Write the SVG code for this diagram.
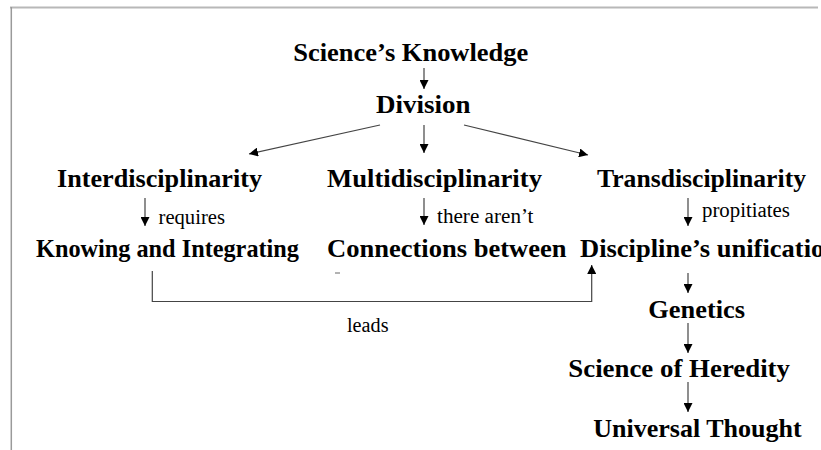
<svg xmlns="http://www.w3.org/2000/svg" width="821" height="450" viewBox="0 0 821 450">
<style>
text{font-family:'Liberation Serif',Times,serif}
.b{font-weight:bold;font-size:26px;fill:#000}
.s{font-weight:normal;font-size:20px;fill:#000}
.ln{stroke:#444;stroke-width:1.2;fill:none}
</style>
<defs>
<marker id="ah" viewBox="0 0 10 10" refX="10" refY="5" markerWidth="9" markerHeight="9" markerUnits="userSpaceOnUse" orient="auto">
<path d="M0,0 L10,5 L0,10 Z" fill="#000"/>
</marker>
</defs>
<rect width="821" height="450" fill="#fff"/>
<g id="frame">
<line x1="10" y1="7.5" x2="818" y2="7.5" stroke="#b8b8b8" stroke-width="2"/>
<line x1="11.3" y1="7" x2="11.3" y2="450" stroke="#9a9a9a" stroke-width="1.5"/>
</g>
<g id="connectors">
<line class="ln" x1="424" y1="68" x2="424" y2="89" marker-end="url(#ah)"/>
<line class="ln" x1="380" y1="125" x2="249" y2="154" marker-end="url(#ah)"/>
<line class="ln" x1="424" y1="125" x2="424" y2="153" marker-end="url(#ah)"/>
<line class="ln" x1="464" y1="125" x2="588" y2="155" marker-end="url(#ah)"/>
<line class="ln" x1="145" y1="198" x2="145" y2="226" marker-end="url(#ah)"/>
<line class="ln" x1="424" y1="198" x2="424" y2="225" marker-end="url(#ah)"/>
<line class="ln" x1="688" y1="198" x2="688" y2="226" marker-end="url(#ah)"/>
<polyline class="ln" points="152.3,271 152.3,301.5 591.7,301.5 591.7,265" marker-end="url(#ah)"/>
<line class="ln" x1="688" y1="273" x2="688" y2="293" marker-end="url(#ah)"/>
<line class="ln" x1="688" y1="323" x2="688" y2="353" marker-end="url(#ah)"/>
<line class="ln" x1="688" y1="382" x2="688" y2="412" marker-end="url(#ah)"/>
<line x1="335" y1="273" x2="340" y2="273" stroke="#666" stroke-width="1"/>
</g>
<g id="labels">
<text class="s" x="158.5" y="224" textLength="66.5" lengthAdjust="spacingAndGlyphs">requires</text>
<text class="s" x="437" y="223" textLength="96.5" lengthAdjust="spacingAndGlyphs">there aren’t</text>
<text class="s" x="702" y="216.5" textLength="88" lengthAdjust="spacingAndGlyphs">propitiates</text>
<text class="s" x="347" y="332" textLength="41.5" lengthAdjust="spacingAndGlyphs">leads</text>
</g>
<g id="n-science"><text class="b" x="293.3" y="61" textLength="235" lengthAdjust="spacingAndGlyphs">Science’s Knowledge</text></g>
<g id="n-division"><text class="b" x="376" y="113" textLength="94.5" lengthAdjust="spacingAndGlyphs">Division</text></g>
<g id="n-inter"><text class="b" x="57" y="186.5" textLength="205" lengthAdjust="spacingAndGlyphs">Interdisciplinarity</text></g>
<g id="n-multi"><text class="b" x="327" y="186.5" textLength="215" lengthAdjust="spacingAndGlyphs">Multidisciplinarity</text></g>
<g id="n-trans"><text class="b" x="597" y="186.5" textLength="209" lengthAdjust="spacingAndGlyphs">Transdisciplinarity</text></g>
<g id="n-knowing"><text class="b" x="36" y="257" textLength="263" lengthAdjust="spacingAndGlyphs">Knowing and Integrating</text></g>
<g id="n-connections"><text class="b" x="327" y="257" textLength="239.5" lengthAdjust="spacingAndGlyphs">Connections between</text></g>
<g id="n-discipline"><text class="b" x="580" y="257" textLength="259" lengthAdjust="spacingAndGlyphs">Discipline’s unification</text></g>
<g id="n-genetics"><text class="b" x="648.3" y="318" textLength="96.7" lengthAdjust="spacingAndGlyphs">Genetics</text></g>
<g id="n-heredity"><text class="b" x="568.3" y="377" textLength="221.7" lengthAdjust="spacingAndGlyphs">Science of Heredity</text></g>
<g id="n-universal"><text class="b" x="593.3" y="436.5" textLength="208.4" lengthAdjust="spacingAndGlyphs">Universal Thought</text></g>
</svg>
